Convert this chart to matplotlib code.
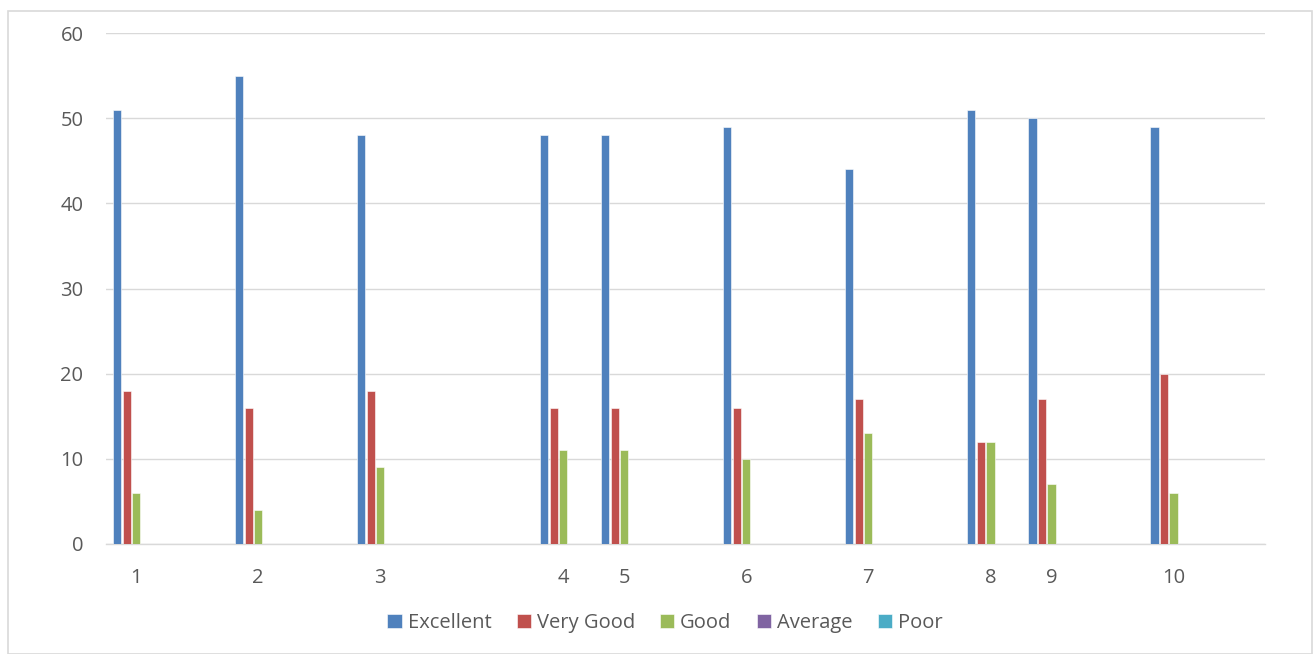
import matplotlib
matplotlib.use("Agg")
import matplotlib.pyplot as plt
import numpy as np
from matplotlib.patches import Rectangle

# Excel date-style axis: categories sit at uneven positions
categories = ["1", "2", "3", "4", "5", "6", "7", "8", "9", "10"]
positions = [0, 2, 4, 7, 8, 10, 12, 14, 15, 17]
series_names = ["Excellent", "Very Good", "Good", "Average", "Poor"]
excellent = [51, 55, 48, 48, 48, 49, 44, 51, 50, 49]
very_good = [18, 16, 18, 16, 16, 16, 17, 12, 17, 20]
good = [6, 4, 9, 11, 11, 10, 13, 12, 7, 6]
average = [0, 0, 0, 0, 0, 0, 0, 0, 0, 0]
poor = [0, 0, 0, 0, 0, 0, 0, 0, 0, 0]
colors = ["#4F81BD", "#C0504D", "#9BBB59", "#8064A2", "#4BACC6"]

plt.rcParams["font.family"] = ["Open Sans", "DejaVu Sans"]
TXT = "#595959"
GRID = "#D9D9D9"

fig = plt.figure(figsize=(13.14, 6.54), dpi=100)
ax = fig.add_axes([0.0804, 0.1682, 0.8823, 0.7813])

x = np.array(positions, dtype=float)
step = 0.156
bw = 0.135
for i, (name, vals) in enumerate(zip(series_names, [excellent, very_good, good, average, poor])):
    ax.bar(x + (i - 2) * step, vals, width=bw, color=colors[i], label=name,
           edgecolor="white", linewidth=0.4, zorder=3)

ax.set_xlim(-0.5, 18.5)
ax.set_ylim(0, 60)
ax.set_yticks(range(0, 61, 10))
ax.set_xticks(x)
ax.set_xticklabels(categories)
ax.grid(axis="y", color=GRID, linewidth=1.0, zorder=0)
for s in ["top", "right", "left"]:
    ax.spines[s].set_visible(False)
ax.spines["bottom"].set_color(GRID)
ax.spines["bottom"].set_linewidth(1.0)
ax.tick_params(axis="both", length=0, labelsize=14.5, colors=TXT)
ax.tick_params(axis="y", pad=16)
ax.tick_params(axis="x", pad=17)

leg = fig.legend(loc="center", bbox_to_anchor=(0.506, 0.048), ncol=5, frameon=False,
                 fontsize=14.5, handlelength=0.7, handleheight=0.7, handletextpad=0.3,
                 columnspacing=1.25)
for t in leg.get_texts():
    t.set_color(TXT)

# outer chart border
fig.patches.append(Rectangle((8 / 1314, 0.5 / 654), 1304 / 1314, 643 / 654,
                             transform=fig.transFigure, fill=False,
                             edgecolor=GRID, linewidth=1.2))

fig.savefig("out.png", dpi=100)
